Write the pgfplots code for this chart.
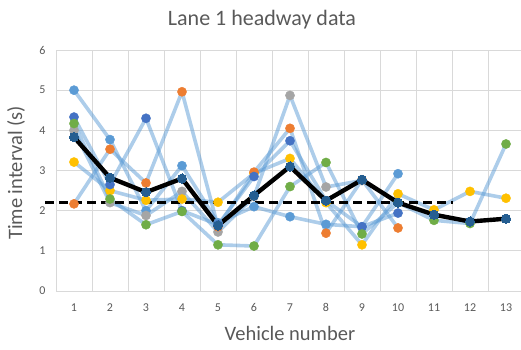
\documentclass[border=0pt]{standalone}
\usepackage{pgfplots}
\pgfplotsset{compat=1.18}
\usepackage{fontspec}
\setmainfont{Carlito}

\definecolor{sLightBlue}{HTML}{5B9BD5}
\definecolor{sOrange}{HTML}{ED7D31}
\definecolor{sGray}{HTML}{A5A5A5}
\definecolor{sYellow}{HTML}{FFC000}
\definecolor{sBlue}{HTML}{4472C4}
\definecolor{sGreen}{HTML}{70AD47}
\definecolor{sDarkBlue}{HTML}{255E91}
\definecolor{gridgray}{HTML}{D9D9D9}
\definecolor{textgray}{HTML}{595959}

\pgfplotsset{
  runline/.style={no marks, color=sLightBlue, opacity=0.5, line width=3.6pt, line join=round},
  runmark/.style={only marks, mark=*, mark size=4.6pt, color=#1, fill=#1},
}

\begin{document}
\begin{tikzpicture}[x=1pt,y=1pt]
\useasboundingbox (0,0) rectangle (521,349);
\begin{axis}[
  at={(56pt,58pt)}, anchor=south west,
  scale only axis, width=468pt, height=241pt,
  xmin=0.5, xmax=13.5, ymin=0, ymax=6,
  axis line style={draw=none},
  xtick={1,...,13}, ytick={0,...,6},
  minor xtick={0.5,1.5,...,13.5},
  xminorgrids=true, ymajorgrids=true, xmajorgrids=false,
  grid style={gridgray, line width=0.9pt},
  minor grid style={gridgray, line width=0.9pt},
  major tick length=0pt, minor tick length=0pt,
  tick label style={font=\fontsize{12}{14}\selectfont, text=textgray},
  /pgf/number format/assume math mode=true,
  xticklabel style={yshift=-9pt},
  yticklabel style={xshift=-7pt},
  clip=false,
]
% run traces (light translucent lines)
\addplot[runline] coordinates {(1,5.0)(2,3.77)(3,2.0)(4,3.12)(5,1.7)(6,2.1)(7,1.85)(8,1.66)(9,1.6)(10,2.92)};
\addplot[runline] coordinates {(1,4.0)(2,2.2)(3,1.88)(4,2.48)(5,1.47)(6,2.35)(7,4.87)(8,2.59)(9,2.75)};
\addplot[runline] coordinates {(1,3.21)(2,2.5)(3,2.26)(4,2.29)(5,2.21)(6,2.93)(7,3.3)(8,2.2)(9,1.15)(10,2.42)(11,2.02)(12,2.48)(13,2.31)};
\addplot[runline] coordinates {(1,2.17)(2,3.53)(3,2.69)(4,4.96)(5,1.6)(6,2.96)(7,4.05)(8,1.44)(9,2.77)(10,1.57)};
\addplot[runline] coordinates {(1,4.33)(2,2.65)(3,4.3)(4,2.0)(5,1.65)(6,2.85)(7,3.74)(8,2.25)(9,1.6)(10,1.94)};
\addplot[runline] coordinates {(1,4.17)(2,2.29)(3,1.65)(4,1.98)(5,1.15)(6,1.12)(7,2.6)(8,3.2)(9,1.42)(10,2.2)(11,1.76)(12,1.68)(13,3.66)};
% markers
\addplot[runmark=sLightBlue] coordinates {(1,5.0)(2,3.77)(3,2.0)(4,3.12)(5,1.7)(6,2.1)(7,1.85)(8,1.66)(9,1.6)(10,2.92)};
\addplot[runmark=sGray] coordinates {(1,4.0)(2,2.2)(3,1.88)(4,2.48)(5,1.47)(6,2.35)(7,4.87)(8,2.59)(9,2.75)};
\addplot[runmark=sYellow] coordinates {(1,3.21)(2,2.5)(3,2.26)(4,2.29)(5,2.21)(6,2.93)(7,3.3)(8,2.2)(9,1.15)(10,2.42)(11,2.02)(12,2.48)(13,2.31)};
\addplot[runmark=sOrange] coordinates {(1,2.17)(2,3.53)(3,2.69)(4,4.96)(5,1.6)(6,2.96)(7,4.05)(8,1.44)(9,2.77)(10,1.57)};
\addplot[runmark=sBlue] coordinates {(1,4.33)(2,2.65)(3,4.3)(4,2.0)(5,1.65)(6,2.85)(7,3.74)(8,2.25)(9,1.6)(10,1.94)};
\addplot[runmark=sGreen] coordinates {(1,4.17)(2,2.29)(3,1.65)(4,1.98)(5,1.15)(6,1.12)(7,2.6)(8,3.2)(9,1.42)(10,2.2)(11,1.76)(12,1.68)(13,3.66)};
% reference level
\addplot[black, line width=2.8pt, dash pattern=on 9pt off 5pt] coordinates {(0.2,2.2)(11.52,2.2)};
% mean trace
\addplot[black, line width=4.4pt, line join=round, mark=*, mark size=4.6pt,
  mark options={solid, draw=sDarkBlue, fill=sDarkBlue, line width=0pt}]
  coordinates {(1,3.83)(2,2.82)(3,2.46)(4,2.8)(5,1.63)(6,2.38)(7,3.1)(8,2.25)(9,2.77)(10,2.2)(11,1.9)(12,1.73)(13,1.8)};
\end{axis}
\node[text=textgray, font=\fontsize{22}{26}\selectfont] at (262,329) {Lane 1 headway data};
\node[text=textgray, font=\fontsize{20.5}{24}\selectfont] at (290,16) {Vehicle number};
\node[text=textgray, font=\fontsize{20.5}{24}\selectfont, rotate=90] at (16,176) {Time interval (s)};
\end{tikzpicture}
\end{document}
